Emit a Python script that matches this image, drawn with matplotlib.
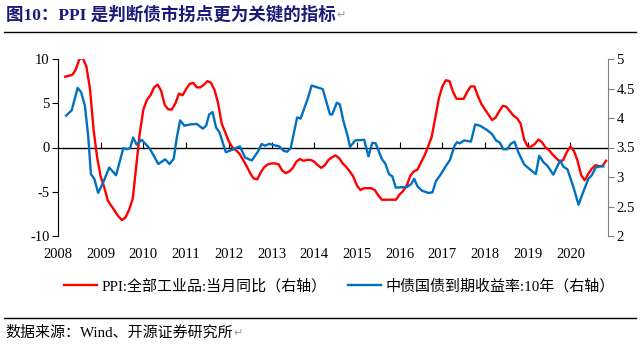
import numpy as np
import matplotlib
matplotlib.use("Agg")
import matplotlib.pyplot as plt
from matplotlib.lines import Line2D

plt.rcParams['font.family'] = ['Liberation Serif', 'Noto Sans CJK SC']
plt.rcParams['axes.unicode_minus'] = False

# PPI YoY (%), monthly from Mar 2008 to Nov 2020
ppi_2008 = [8.0, 8.1, 8.2, 8.8, 10.0, 10.1, 9.1, 6.6, 2.0, -1.1]
ppi_2009 = [-3.3, -4.5, -6.0, -6.6, -7.2, -7.8, -8.2, -7.9, -7.0, -5.8, -2.1, 1.7]
ppi_2010 = [4.3, 5.4, 5.9, 6.8, 7.1, 6.4, 4.8, 4.3, 4.3, 5.0, 6.1, 5.9]
ppi_2011 = [6.6, 7.2, 7.3, 6.8, 6.8, 7.1, 7.5, 7.3, 6.5, 5.0, 2.7, 1.7]
ppi_2012 = [0.7, 0.0, -0.3, -0.7, -1.4, -2.1, -2.9, -3.5, -3.6, -2.8, -2.2, -1.9]
ppi_2013 = [-1.8, -1.8, -1.9, -2.6, -2.9, -2.7, -2.3, -1.6, -1.3, -1.5, -1.4, -1.4]
ppi_2014 = [-1.6, -2.0, -2.3, -2.0, -1.4, -1.1, -0.9, -1.2, -1.8, -2.2, -2.7, -3.3]
ppi_2015 = [-4.3, -4.8, -4.6, -4.6, -4.6, -4.8, -5.4, -5.9, -5.9, -5.9, -5.9, -5.9]
ppi_2016 = [-5.3, -4.9, -4.3, -3.2, -2.7, -2.5, -1.7, -0.9, 0.1, 1.2, 3.3, 5.5]
ppi_2017 = [6.9, 7.6, 7.5, 6.3, 5.5, 5.5, 5.5, 6.3, 6.9, 6.9, 5.8, 4.9]
ppi_2018 = [4.3, 3.7, 3.1, 3.4, 4.1, 4.7, 4.6, 4.1, 3.6, 3.3, 2.7, 0.9]
ppi_2019 = [0.1, 0.1, 0.4, 0.9, 0.6, 0.0, -0.3, -0.8, -1.2, -1.6, -1.4, -0.5]
ppi_2020 = [0.1, -0.4, -1.5, -3.1, -3.7, -3.0, -2.4, -2.0, -2.1, -2.1, -1.5]
ppi = (ppi_2008 + ppi_2009 + ppi_2010 + ppi_2011 + ppi_2012 + ppi_2013 + ppi_2014
       + ppi_2015 + ppi_2016 + ppi_2017 + ppi_2018 + ppi_2019 + ppi_2020)
ppi_start_month = 3  # March 2008

# 10Y government bond yield (%)
yield_x = [2008.19, 2008.32, 2008.46, 2008.54, 2008.63, 2008.71, 2008.77, 2008.85, 2008.94,
           2009.06, 2009.20, 2009.36, 2009.53, 2009.61, 2009.69, 2009.76, 2009.84, 2009.96,
           2010.15, 2010.35, 2010.51, 2010.61, 2010.71, 2010.78, 2010.86, 2010.96,
           2011.09, 2011.25, 2011.39, 2011.47, 2011.54, 2011.62, 2011.70, 2011.78, 2011.93,
           2012.11, 2012.26, 2012.38, 2012.54, 2012.69, 2012.77, 2012.85, 2012.94,
           2013.18, 2013.29, 2013.37, 2013.45, 2013.60, 2013.68, 2013.84, 2013.94,
           2014.20, 2014.37, 2014.42, 2014.53, 2014.60, 2014.68, 2014.78, 2014.84, 2014.96,
           2015.17, 2015.27, 2015.36, 2015.44, 2015.58, 2015.67, 2015.75, 2015.83, 2015.91,
           2016.17, 2016.27, 2016.34, 2016.42, 2016.52, 2016.67, 2016.77, 2016.85, 2016.95,
           2017.06, 2017.18, 2017.28, 2017.34, 2017.41, 2017.51, 2017.67, 2017.77, 2017.88,
           2018.04, 2018.16, 2018.26, 2018.35, 2018.43, 2018.52, 2018.60, 2018.69, 2018.78, 2018.92,
           2019.05, 2019.19, 2019.27, 2019.37, 2019.46, 2019.60, 2019.76, 2019.83, 2019.93,
           2020.07, 2020.19, 2020.27, 2020.34, 2020.42, 2020.50, 2020.59, 2020.69, 2020.77]
yield_10y = [4.04, 4.13, 4.51, 4.44, 4.21, 3.67, 3.05, 2.97, 2.73,
             2.91, 3.16, 3.03, 3.49, 3.47, 3.49, 3.67, 3.55, 3.63,
             3.48, 3.22, 3.30, 3.22, 3.31, 3.66, 3.96, 3.87,
             3.89, 3.90, 3.82, 3.87, 4.06, 4.10, 3.84, 3.76, 3.42,
             3.47, 3.52, 3.33, 3.28, 3.44, 3.56, 3.53, 3.56,
             3.52, 3.44, 3.43, 3.49, 4.01, 3.99, 4.31, 4.55,
             4.49, 4.06, 4.06, 4.26, 4.23, 3.96, 3.70, 3.51, 3.62,
             3.63, 3.35, 3.58, 3.57, 3.31, 3.22, 3.05, 3.01, 2.82,
             2.83, 2.88, 2.97, 2.84, 2.77, 2.73, 2.74, 2.93, 3.03,
             3.16, 3.29, 3.52, 3.59, 3.57, 3.62, 3.60, 3.89, 3.87,
             3.80, 3.73, 3.62, 3.58, 3.47, 3.47, 3.56, 3.60, 3.42, 3.21,
             3.13, 3.05, 3.36, 3.25, 3.19, 3.04, 3.28, 3.18, 3.13,
             2.83, 2.53, 2.69, 2.82, 2.97, 3.03, 3.16, 3.18, 3.18]

years = list(range(2008, 2021))
left_ticks = [-10, -5, 0, 5, 10]
right_ticks = [2, 2.5, 3, 3.5, 4, 4.5, 5]
right_labels = ['2', '2.5', '3', '3.5', '4', '4.5', '5']

title = "图10：PPI 是判断债市拐点更为关键的指标"
ppi_label = "PPI:全部工业品:当月同比（右轴）"
yield_label = "中债国债到期收益率:10年（右轴）"
source = "数据来源：Wind、开源证券研究所"

W, H = 644, 352
fig = plt.figure(figsize=(W / 100, H / 100), dpi=100)
ax = fig.add_axes([58 / W, 1 - 236 / H, 550 / W, 177 / H])
ax2 = ax.twinx()

ppi_x = 2008 + (np.arange(len(ppi)) + ppi_start_month - 1) / 12
ax.plot(ppi_x, ppi, color='#FF0000', lw=1.7, solid_joinstyle='round', zorder=3)
ax2.plot(yield_x, yield_10y, color='#0070C0', lw=1.7, solid_joinstyle='round')

ax.set_xlim(2008, 2020.88)
ax.set_ylim(-10, 10)
ax2.set_ylim(2, 5)

# left axis
ax.spines['top'].set_visible(False)
ax.spines['right'].set_visible(False)
ax.spines['left'].set_color('black')
ax.spines['left'].set_linewidth(0.8)
ax.set_yticks(left_ticks)
ax.tick_params(axis='y', direction='out', length=4, width=0.8, labelsize=10.5, pad=2)

# x axis drawn on the zero line, labels at the bottom
ax.spines['bottom'].set_position(('data', 0))
ax.spines['bottom'].set_linewidth(1.0)
ax.set_xticks(years)
ax.tick_params(axis='x', direction='in', length=4, width=0.8, labelbottom=False)
sec = ax.secondary_xaxis('bottom')
sec.set_xticks(years)
sec.spines['bottom'].set_visible(False)
sec.tick_params(length=0, labelsize=10.5, pad=9)

# right axis
for s in ['left', 'top', 'bottom']:
    ax2.spines[s].set_visible(False)
ax2.spines['right'].set_color('#808080')
ax2.spines['right'].set_linewidth(0.8)
ax2.set_yticks(right_ticks)
ax2.set_yticklabels(right_labels)
ax2.tick_params(axis='y', direction='out', length=4, width=0.8, color='#808080',
                labelsize=10.5, pad=2)

handles = [Line2D([], [], color='#FF0000', lw=1.7), Line2D([], [], color='#0070C0', lw=1.7)]
fig.legend(handles, [ppi_label, yield_label], loc='center', bbox_to_anchor=(0.527, 1 - 286 / H),
           ncol=2, frameon=False, fontsize=10.8, handlelength=2.2, handletextpad=0.3,
           columnspacing=1.4)

t1 = fig.text(6 / W, 1 - 15 / H, title, fontsize=12.6, fontweight='bold', color='#1a1a78',
              va='center', ha='left')
t2 = fig.text(5 / W, 1 - 333 / H, source, fontsize=10.8, va='center', ha='left')

# paragraph marks after title and source
fig.canvas.draw()
r = fig.canvas.get_renderer()
for t in (t1, t2):
    bb = t.get_window_extent(r)
    fig.text((bb.x1 + 1) / W, (bb.y0 + bb.y1) / 2 / H, "↵", fontsize=8, color='#9a9a9a',
             family='DejaVu Sans', va='center', ha='left')

fig.add_artist(Line2D([4 / W, 636 / W], [1 - 32 / H] * 2, color='black', lw=1))
fig.add_artist(Line2D([4 / W, 636 / W], [1 - 318 / H] * 2, color='black', lw=1))

fig.savefig('out.png', dpi=100)
